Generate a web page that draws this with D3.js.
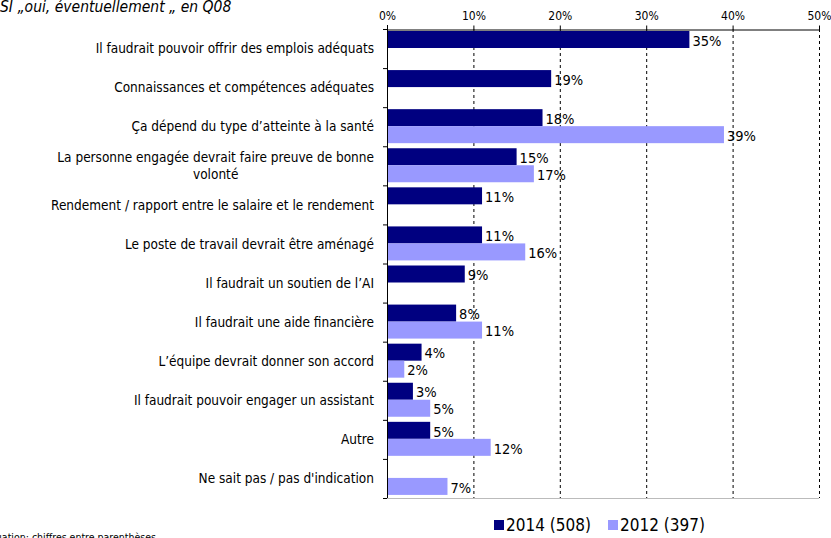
<!DOCTYPE html>
<meta charset="utf-8">
<style>
  body { margin: 0; background: #fff; }
  text { font-family: "DejaVu Sans Condensed", "DejaVu Sans", sans-serif; fill: #000; }
</style>
<svg width="831" height="538"></svg>
<script src="https://d3js.org/d3.v7.min.js"></script>
<script>

var categories = [
  "Il faudrait pouvoir offrir des emplois adéquats",
  "Connaissances et compétences adéquates",
  "Ça dépend du type d’atteinte à la santé",
  "La personne engagée devrait faire preuve de bonne|volonté",
  "Rendement / rapport entre le salaire et le rendement",
  "Le poste de travail devrait être aménagé",
  "Il faudrait un soutien de l’AI",
  "Il faudrait une aide financière",
  "L’équipe devrait donner son accord",
  "Il faudrait pouvoir engager un assistant",
  "Autre",
  "Ne sait pas / pas d'indication"
];
var values2014 = [35, 19, 18, 15, 11, 11, 9, 8, 4, 3, 5, null];
var values2012 = [null, null, 39, 17, null, 16, null, 11, 2, 5, 12, 7];
var seriesNames = ["2014 (508)", "2012 (397)"];
var xTicks = [0, 10, 20, 30, 40, 50];

var colors = ["#000080", "#9999ff"];

var svg = d3.select("svg");
var plotTop = 29, plotBottom = 498;

var x = d3.scaleLinear().domain([0, 50]).range([387, 819]);
var y = d3.scaleBand().domain(d3.range(categories.length)).range([plotTop, plotBottom]).padding(0);
var bw = y.bandwidth();

// title (cut off at the top)
svg.append("text")
    .attr("x", 0).attr("y", 12)
    .attr("font-size", 15.5).attr("font-style", "italic")
    .attr("fill", "#111")
    .text("SI „oui, éventuellement „ en Q08");

// grid lines
svg.append("g").selectAll("line")
  .data(xTicks.slice(1))
  .enter().append("line")
    .attr("x1", function(d) { return x(d) + 0.5; })
    .attr("x2", function(d) { return x(d) + 0.5; })
    .attr("y1", plotTop).attr("y2", plotBottom)
    .attr("stroke", "#000")
    .attr("stroke-dasharray", "3,3");

svg.append("line")
    .attr("x1", x(0)).attr("x2", x(50))
    .attr("y1", plotBottom + 0.5).attr("y2", plotBottom + 0.5)
    .attr("stroke", "#bbb");

// bars
var series = [values2014, values2012];
series.forEach(function(vals, s) {
  var rows = vals.map(function(v, i) { return {i: i, v: v}; })
      .filter(function(d) { return d.v != null; });
  var g = svg.append("g");
  g.selectAll("rect").data(rows).enter().append("rect")
      .attr("x", x(0))
      .attr("y", function(d) { return y(d.i) + 2 + s * 17; })
      .attr("width", function(d) { return x(d.v) - x(0); })
      .attr("height", 17)
      .attr("fill", colors[s]);
  g.selectAll("text").data(rows).enter().append("text")
      .attr("x", function(d) { return x(d.v) + 3; })
      .attr("y", function(d) { return y(d.i) + 2 + s * 17 + 9.5; })
      .attr("dy", "0.36em")
      .attr("font-size", 14.5)
      .attr("fill", "#111")
      .text(function(d) { return d.v + "%"; });
});

// top axis
var xAxis = svg.append("g")
    .attr("transform", "translate(0," + (plotTop + 0.5) + ")")
    .call(d3.axisTop(x).tickValues(xTicks).tickSize(4).tickSizeOuter(0)
      .tickFormat(function(d) { return d + "%"; }));
xAxis.select(".domain").attr("stroke", "#000");
xAxis.selectAll("text")
    .attr("font-family", "DejaVu Sans Condensed, DejaVu Sans, sans-serif")
    .attr("font-size", 12)
    .attr("fill", "#111")
    .attr("y", -10);

// left axis with ticks at band boundaries
var yAxis = svg.append("g");
yAxis.append("line")
    .attr("x1", x(0) + 0.5).attr("x2", x(0) + 0.5)
    .attr("y1", plotTop - 4).attr("y2", plotBottom)
    .attr("stroke", "#000");
yAxis.selectAll(".tick").data(d3.range(categories.length + 1))
  .enter().append("line")
    .attr("x1", x(0) - 4).attr("x2", x(0))
    .attr("y1", function(i) { return (i < categories.length ? y(i) : plotBottom) + 0.5; })
    .attr("y2", function(i) { return (i < categories.length ? y(i) : plotBottom) + 0.5; })
    .attr("stroke", "#000");

// category labels
var labelRight = 374;
categories.forEach(function(c, i) {
  var lines = c.split("|");
  var t = svg.append("text")
      .attr("font-size", 13.5)
      .attr("fill", "#222")
      .attr("text-anchor", lines.length > 1 ? "middle" : "end");
  var cy = y(i) + bw / 2;
  lines.forEach(function(l, k) {
    t.append("tspan")
        .attr("x", labelRight)
        .attr("y", cy + (k - (lines.length - 1) / 2) * 17)
        .attr("dy", "0.35em")
        .text(l);
  });
  if (lines.length > 1) {
    var w = d3.max(t.selectAll("tspan").nodes(), function(n) { return n.getComputedTextLength(); });
    t.selectAll("tspan").attr("x", labelRight - w / 2);
  }
});

// legend
var legend = svg.append("g").attr("transform", "translate(494,520)");
seriesNames.forEach(function(name, s) {
  var lg = legend.append("g").attr("transform", "translate(" + (s * 114) + ",0)");
  lg.append("rect").attr("width", 10).attr("height", 10).attr("fill", colors[s]);
  lg.append("text").attr("x", 12).attr("y", 5).attr("dy", "0.36em")
      .attr("font-size", 17).attr("fill", "#111").text(name);
});

// footnote (cut off at the left and bottom)
svg.append("text")
    .attr("x", 156).attr("y", 541)
    .attr("text-anchor", "end")
    .attr("font-size", 10.5)
    .attr("fill", "#111")
    .text("Base de l’évaluation: chiffres entre parenthèses");

</script>
